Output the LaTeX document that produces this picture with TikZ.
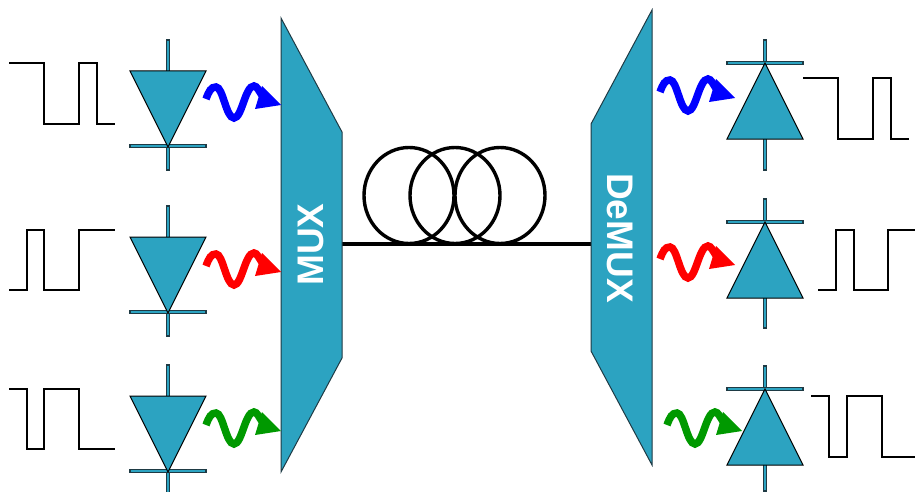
\documentclass[tikz,border=0pt]{standalone}
\usepackage{fontspec}
\setmainfont{Liberation Sans}
\definecolor{teal2}{HTML}{2CA3C1}
\definecolor{edge2}{HTML}{1E3A44}
\definecolor{wgreen}{HTML}{009900}
\tikzset{
  block/.style={fill=teal2,draw=edge2,line width=1pt,line join=miter},
  tri/.style={fill=teal2,draw=black,line width=1pt,line join=miter},
  lead/.style={fill=teal2,draw=edge2,line width=1.1pt},
  pulse/.style={draw=black,line width=1.9pt,line join=miter},
  fibre/.style={draw=black,line width=4pt},
  coil/.style={draw=black,line width=3.4pt},
  blocklabel/.style={text=white,font=\bfseries\fontsize{37}{37}\selectfont,inner sep=0pt},
  wavy/.style={line width=7.5pt,line cap=butt},
}
\newcommand{\diodedown}[3]{% x, stem top, triangle top
  \begin{scope}[shift={(#1,#2)}]
    \draw[lead] (-1.8,0) rectangle (1.8,130);
    \draw[lead] (-38,104.2) rectangle (38,107.8);
    \draw[tri] (-38,31) -- (38,31) -- (0,107) -- cycle;
  \end{scope}}
\newcommand{\diodeup}[5]{% x, stem top, apex y, base y, stem bottom
  \draw[lead] (#1-1.8,#2) rectangle (#1+1.8,#5);
  \draw[lead] (#1-38,#3-1.8) rectangle (#1+38,#3+1.8);
  \draw[tri] (#1,#3) -- (#1+38,#4) -- (#1-38,#4) -- cycle;}
\newcommand{\lightwave}[3]{% tip x, tip y, colour
  \begin{scope}[shift={(#1,#2)}]
    \draw[wavy,#3] (-75,-6) .. controls (-72,-14) and (-70,-18) .. (-65,-18)
      .. controls (-58,-18) and (-55,13) .. (-47,13)
      .. controls (-39,13) and (-36,-19) .. (-27,-19)
      .. controls (-24,-19) and (-22,-14) .. (-18,-8);
    \fill[#3] (0,0) -- (-19,-19) -- (-26,4) -- cycle;
  \end{scope}}
\begin{document}
\begin{tikzpicture}[x=1pt,y=-1pt]
\useasboundingbox (0,0) rectangle (915,492);
% pulses, left
\draw[pulse] (9,63) -- (44,63) -- (44,124) -- (79,124) -- (79,63) -- (97,63) -- (97,124) -- (115,124);
\draw[pulse] (9,290) -- (27,290) -- (27,230) -- (44,230) -- (44,290) -- (79,290) -- (79,230) -- (115,230);
\draw[pulse] (9,389) -- (27,389) -- (27,449) -- (44,449) -- (44,389) -- (79,389) -- (79,449) -- (115,449);
% pulses, right
\draw[pulse] (803,78) -- (838,78) -- (838,139) -- (873,139) -- (873,78) -- (891,78) -- (891,139) -- (909,139);
\draw[pulse] (818,290) -- (836,290) -- (836,230) -- (854,230) -- (854,290) -- (888,290) -- (888,230) -- (915,230);
\draw[pulse] (811,396) -- (829,396) -- (829,457) -- (847,457) -- (847,396) -- (882,396) -- (882,457) -- (915,457);
% diodes
\diodedown{168}{40}{71}
\diodedown{168}{206}{237}
\diodedown{168}{365}{396}
\diodeup{765}{40}{63}{139}{170}
\diodeup{765}{199}{222}{298}{328}
\diodeup{765}{366}{389}{465}{491}
% fibre coil
\coordinate (muxout) at (342,244);
\coordinate (demuxin) at (591,244);
\foreach \cx in {409,455,500}
  \draw[coil] (\cx,195.5) ellipse [x radius=45,y radius=48];
\draw[fibre] (muxout) -- (demuxin);
% MUX / DeMUX
\draw[block] (281,18) -- (342,132) -- (342,358) -- (281,472) -- cycle;
\draw[block] (652,10) -- (591,124) -- (591,351) -- (652,465) -- cycle;
\node[blocklabel,rotate=90] (muxlabel) at (311,244.5) {MUX};
\node[blocklabel,rotate=-90] (demuxlabel) at (620,238) {DeMUX};
% light
\lightwave{281}{105}{blue}
\lightwave{281}{272}{red}
\lightwave{281}{431}{wgreen}
\lightwave{735}{98}{blue}
\lightwave{735}{265}{red}
\lightwave{742}{431}{wgreen}
\end{tikzpicture}
\end{document}
